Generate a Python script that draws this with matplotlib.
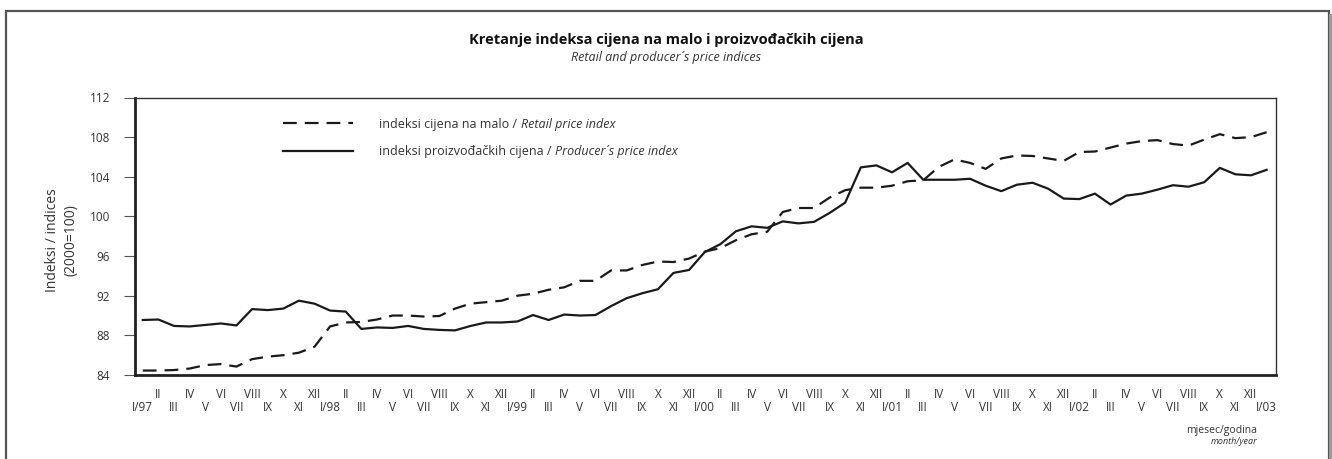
import matplotlib
matplotlib.use("Agg")
import matplotlib.pyplot as plt
from matplotlib.patches import Rectangle

plt.rcParams['font.family'] = ['Open Sans', 'DejaVu Sans']

# ---------------- data ----------------
retail = [84.45, 84.45, 84.5, 84.65, 85.0, 85.1, 84.85, 85.6, 85.85, 86.0, 86.25, 86.85,
          88.9, 89.3, 89.35, 89.6, 90.0, 90.0, 89.9, 89.95, 90.7, 91.2, 91.35, 91.5,
          92.0, 92.2, 92.6, 92.85, 93.5, 93.5, 94.55, 94.55, 95.1, 95.45, 95.4, 95.75,
          96.45, 96.8, 97.6, 98.2, 98.45, 100.45, 100.85, 100.85, 101.9, 102.65, 102.9, 102.9,
          103.1, 103.55, 103.65, 105.0, 105.75, 105.4, 104.8, 105.85, 106.15, 106.1, 105.85, 105.6,
          106.5, 106.55, 106.95, 107.35, 107.6, 107.7, 107.3, 107.15, 107.75, 108.3, 107.9, 108.0,
          108.5]
producer = [89.55, 89.6, 88.95, 88.9, 89.05, 89.2, 89.0, 90.65, 90.55, 90.7, 91.5, 91.2,
            90.5, 90.4, 88.65, 88.8, 88.75, 88.95, 88.65, 88.55, 88.5, 88.95, 89.3, 89.3,
            89.4, 90.05, 89.55, 90.1, 90.0, 90.05, 90.95, 91.75, 92.25, 92.65, 94.3, 94.6,
            96.4, 97.2, 98.5, 99.0, 98.85, 99.5, 99.3, 99.45, 100.35, 101.4, 104.95, 105.15,
            104.45, 105.4, 103.7, 103.7, 103.7, 103.8, 103.1, 102.55, 103.2, 103.4, 102.8, 101.8,
            101.75, 102.3, 101.2, 102.1, 102.3, 102.7, 103.15, 103.0, 103.45, 104.9, 104.25, 104.15,
            104.7]
roman = ['I', 'II', 'III', 'IV', 'V', 'VI', 'VII', 'VIII', 'IX', 'X', 'XI', 'XII']
start_year = 97
yticks = [84, 88, 92, 96, 100, 104, 108, 112]

title = "Kretanje indeksa cijena na malo i proizvođačkih cijena"
subtitle = "Retail and producer´s price indices"
leg_hr = ["indeksi cijena na malo / ", "indeksi proizvođačkih cijena / "]
leg_en = ["Retail price index", "Producer´s price index"]
ylabel = "Indeksi / indices\n(2000=100)"
xlab_hr = "mjesec/godina"
xlab_en = "month/year"

# month labels
n = len(retail)
labels = []
for m in range(n):
    mi = m % 12
    if mi == 0:
        labels.append(f"I/{(start_year + m // 12) % 100:02d}")
    else:
        labels.append(roman[mi])
x = list(range(n))

# ---------------- figure ----------------
W, H = 1332, 459
fig = plt.figure(figsize=(W / 100, H / 100), dpi=100)
fig.patch.set_facecolor('white')
txt = '#333333'

# outer frame
fig.patches.append(Rectangle((6 / W, -0.05), (1329 - 6) / W, 1.05 - 11 / H,
                             transform=fig.transFigure, fill=False,
                             edgecolor='#555555', lw=1.6))
fig.patches.append(Rectangle((1329 / W, -0.05), 3 / W, 1.05 - 14 / H,
                             transform=fig.transFigure, fill=True,
                             facecolor='#9a9a9a', edgecolor='none'))

ax = fig.add_axes([135 / W, 1 - 375 / H, (1276 - 135) / W, (375 - 97.5) / H])
ink = '#1a1a1a'
l1, = ax.plot(x, retail, color=ink, lw=1.6, linestyle=(0, (6.2, 3.6)),
              dash_capstyle='butt', label=leg_hr[0])
l2, = ax.plot(x, producer, color=ink, lw=1.6, label=leg_hr[1])

ax.set_xlim(-0.5, 72.6)
ax.set_ylim(84, 112)
ax.set_yticks(yticks)
ax.tick_params(axis='y', length=8, width=0.8, color='#555555', pad=10,
               labelsize=8.5, labelcolor=txt)

# two-row month labels
odd = [m for m in x if m % 2 == 1]
even = [m for m in x if m % 2 == 0]
ax.set_xticks(odd, [labels[m] for m in odd])
ax.set_xticks(even, [labels[m] for m in even], minor=True)
ax.tick_params(axis='x', which='major', length=0, pad=9, labelsize=8.5, labelcolor=txt)
ax.tick_params(axis='x', which='minor', length=0, pad=19, labelsize=8.5, labelcolor=txt)

for side in ['left', 'bottom']:
    ax.spines[side].set_linewidth(2.0)
    ax.spines[side].set_color('#222222')
for side in ['top', 'right']:
    ax.spines[side].set_linewidth(1.0)
    ax.spines[side].set_color('#333333')

# legend
fs_leg = 9.0
leg = ax.legend(handles=[l1, l2], loc='upper left', bbox_to_anchor=(0.1255, 0.945),
                frameon=False, fontsize=fs_leg, handlelength=5.6, handletextpad=2.1,
                labelspacing=1.15, borderaxespad=0)
for t in leg.get_texts():
    t.set_color(txt)

# titles
fig.text(0.5, 1 - 40 / H, title, ha='center', va='center', fontsize=10.5,
         fontweight='bold', color='#111111')
fig.text(0.5, 1 - 57 / H, subtitle, ha='center', va='center', fontsize=9,
         style='italic', color=txt)

fig.text(62 / W, 1 - 240 / H, ylabel, ha='center', va='center', rotation=90,
         multialignment='center', fontsize=10, color=txt, linespacing=1.3)

fig.text(1257 / W, 1 - 431 / H, xlab_hr, ha='right', va='center', fontsize=7.5,
         color=txt)
fig.text(1257 / W, 1 - 442 / H, xlab_en, ha='right', va='center', fontsize=6.5,
         style='italic', color=txt)

# italic English part of legend labels, placed right after the Croatian part
fig.canvas.draw()
renderer = fig.canvas.get_renderer()
for t, en in zip(leg.get_texts(), leg_en):
    bb = t.get_window_extent(renderer)
    fig.text(bb.x1 / W, bb.y0 / H, en, ha='left', va='bottom',
             fontsize=fs_leg, style='italic', color=txt)

fig.savefig('out.png', dpi=100, facecolor='white')
